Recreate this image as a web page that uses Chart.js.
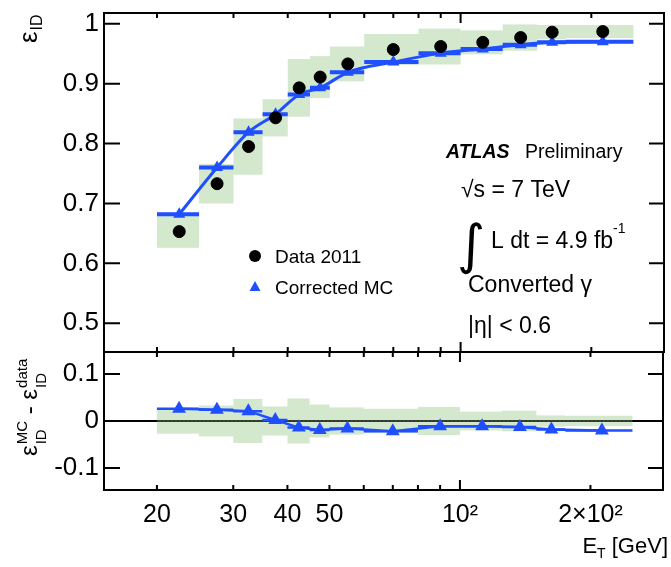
<!DOCTYPE html>
<html>
<head>
<meta charset="utf-8">
<script src="https://cdn.jsdelivr.net/npm/chart.js@4.4.1/dist/chart.umd.min.js"></script>
<style>
    html, body { margin: 0; padding: 0; background: #fff; }
    #wrap { position: relative; width: 671px; height: 567px; overflow: hidden; }
    canvas { position: absolute; left: 0; }
    #effChart { top: 0; }
    #diffChart { top: 340px; }
</style>
</head>
<body>
<div id="wrap">
    <canvas id="effChart" width="671" height="360"></canvas>
    <canvas id="diffChart" width="671" height="227"></canvas>
</div>
<script>
/* ---------------------------------------------------
    Data
---------------------------------------------------*/
const binEdges   = [20, 25, 30, 35, 40, 45, 50, 60, 80, 100, 125, 150, 175, 250];
const binCenters = [22.5, 27.5, 32.5, 37.5, 42.5, 47.5, 55, 70, 90, 112.5, 137.5, 162.5, 212.5];

const dataEff  = [0.653, 0.733, 0.795, 0.843, 0.893, 0.911, 0.933, 0.957, 0.962, 0.969, 0.977, 0.986, 0.987];
const dataSyst = [0.027, 0.033, 0.047, 0.031, 0.048, 0.035, 0.029, 0.026, 0.030, 0.020, 0.022, 0.012, 0.011];
const mcEff    = [0.682, 0.760, 0.819, 0.849, 0.882, 0.893, 0.919, 0.936, 0.951, 0.958, 0.965, 0.969, 0.970];
const mcMinusData = [0.026, 0.024, 0.021, 0.002, -0.014, -0.019, -0.016, -0.022, -0.011, -0.011, -0.013, -0.018, -0.020];

const xTickValues = [20, 30, 40, 50, 60, 70, 80, 90, 100, 200];
const xTickLabels = ["20", "30", "40", "50", "", "", "", "", "10²", "2×10²"];
const effTicks  = [0.5, 0.6, 0.7, 0.8, 0.9, 1];
const diffTicks = [-0.1, 0, 0.1];

const BLUE = "#1f4fff";
const BAND = "rgba(140, 195, 120, 0.38)";
const FONT = "'Liberation Sans', Arial, Helvetica, sans-serif";

Chart.defaults.font.family = FONT;
Chart.defaults.color = "#000";

/* ---------------------------------------------------
    Helpers
---------------------------------------------------*/
function drawBands(chart, centers) {
    const { ctx, scales } = chart;
    ctx.save();
    ctx.fillStyle = BAND;
    for (let i = 0; i < dataSyst.length; i++) {
        const c = centers ? centers[i] : 0;
        const x0 = scales.x.getPixelForValue(binEdges[i]);
        const x1 = scales.x.getPixelForValue(binEdges[i + 1]);
        const y0 = scales.y.getPixelForValue(c + dataSyst[i]);
        const y1 = scales.y.getPixelForValue(c - dataSyst[i]);
        ctx.fillRect(x0, y0, x1 - x0, y1 - y0);
    }
    ctx.restore();
}

function drawXBars(chart, values, width) {
    const { ctx, scales } = chart;
    ctx.save();
    ctx.strokeStyle = BLUE;
    ctx.lineWidth = width;
    ctx.beginPath();
    for (let i = 0; i < values.length; i++) {
        const y = scales.y.getPixelForValue(values[i]);
        ctx.moveTo(scales.x.getPixelForValue(binEdges[i]), y);
        ctx.lineTo(scales.x.getPixelForValue(binEdges[i + 1]), y);
    }
    ctx.stroke();
    ctx.restore();
}

// ROOT style frame with ticks pointing inwards
function drawFrame(chart, yTicks) {
    const { ctx, chartArea: a, scales } = chart;
    ctx.save();
    ctx.strokeStyle = "#000";
    ctx.lineWidth = 2;
    ctx.strokeRect(a.left, a.top, a.right - a.left, a.bottom - a.top);
    ctx.beginPath();
    xTickValues.forEach(v => {
        const px = scales.x.getPixelForValue(v);
        const len = v === 100 ? 10 : 5;
        ctx.moveTo(px, a.top); ctx.lineTo(px, a.top + len);
        ctx.moveTo(px, a.bottom); ctx.lineTo(px, a.bottom - len);
    });
    yTicks.forEach(v => {
        const py = scales.y.getPixelForValue(v);
        ctx.moveTo(a.left, py); ctx.lineTo(a.left + 16, py);
        ctx.moveTo(a.right, py); ctx.lineTo(a.right - 15, py);
    });
    ctx.stroke();
    ctx.restore();
}

function fixedYAxis(ticks) {
    return {
        afterBuildTicks: s => { s.ticks = ticks.map(v => ({ value: v })); },
        afterFit: s => { s.width = 104; s.paddingTop = 0; s.paddingBottom = 0; },
        ticks: { font: { size: 26 }, padding: 5, color: "#000", callback: v => String(v) },
        grid: { display: false, drawTicks: false },
        border: { display: false }
    };
}

/* ---------------------------------------------------
    1. Efficiency panel
---------------------------------------------------*/
const effPlugin = {
    id: "effDecor",
    beforeDatasetsDraw(chart) {
        drawBands(chart, dataEff);
        drawXBars(chart, mcEff, 4);
    },
    afterDraw(chart) {
        drawFrame(chart, effTicks);
        const ctx = chart.ctx;
        ctx.save();
        ctx.fillStyle = "#000";
        ctx.textBaseline = "alphabetic";

        // y title: epsilon_ID
        ctx.save();
        ctx.translate(37, 43);
        ctx.rotate(-Math.PI / 2);
        ctx.font = `26px ${FONT}`;
        ctx.fillText("ε", 0, 0);
        const ew = ctx.measureText("ε").width;
        ctx.font = `16px ${FONT}`;
        ctx.fillText("ID", ew + 1, 5);
        ctx.restore();

        // legend
        ctx.beginPath();
        ctx.arc(255, 256, 6, 0, Math.PI * 2);
        ctx.fill();
        ctx.fillStyle = BLUE;
        ctx.beginPath();
        ctx.moveTo(255, 281); ctx.lineTo(260.5, 291); ctx.lineTo(249.5, 291);
        ctx.closePath();
        ctx.fill();
        ctx.fillStyle = "#000";
        ctx.font = `19px ${FONT}`;
        ctx.fillText("Data 2011", 275, 263);
        ctx.fillText("Corrected MC", 275, 294);

        // ATLAS labels
        ctx.font = `italic bold 19.5px ${FONT}`;
        ctx.fillText("ATLAS", 446, 158);
        ctx.font = `19.5px ${FONT}`;
        ctx.fillText("Preliminary", 525, 158);
        ctx.font = `23px ${FONT}`;
        ctx.fillText("√s = 7 TeV", 461, 197);
        ctx.font = `54px 'DejaVu Sans', ${FONT}`;
        ctx.fillText("∫", 457, 263);
        ctx.font = `23px ${FONT}`;
        ctx.fillText("L dt = 4.9 fb", 491, 248);
        const lw = ctx.measureText("L dt = 4.9 fb").width;
        ctx.font = `14px ${FONT}`;
        ctx.fillText("-1", 491 + lw, 233);
        ctx.font = `23px ${FONT}`;
        ctx.fillText("Converted γ", 468, 292);
        ctx.fillText("|η| < 0.6", 468, 333);
        ctx.restore();
    }
};

new Chart(document.getElementById("effChart"), {
    type: "scatter",
    data: {
        datasets: [
            {
                label: "Data 2011",
                data: binCenters.map((x, i) => ({ x: x, y: dataEff[i] })),
                backgroundColor: "#000",
                borderColor: "#000",
                pointStyle: "circle",
                pointRadius: 6,
                showLine: false
            },
            {
                label: "Corrected MC",
                data: binCenters.map((x, i) => ({ x: x, y: mcEff[i] })),
                type: "line",
                borderColor: BLUE,
                backgroundColor: BLUE,
                borderWidth: 3,
                cubicInterpolationMode: "monotone",
                pointStyle: "triangle",
                pointRadius: 4,
                showLine: true
            }
        ]
    },
    options: {
        responsive: false,
        animation: false,
        devicePixelRatio: 1,
        layout: { padding: { left: 0, right: 5, top: 13, bottom: 8 } },
        plugins: { legend: { display: false }, tooltip: { enabled: false } },
        scales: {
            x: { type: "logarithmic", min: 15.1, max: 294, display: false },
            y: Object.assign({ min: 0.452, max: 1.018 }, fixedYAxis(effTicks))
        }
    },
    plugins: [effPlugin]
});

/* ---------------------------------------------------
    2. Difference panel (MC - data)
---------------------------------------------------*/
const diffPlugin = {
    id: "diffDecor",
    beforeDatasetsDraw(chart) {
        const { ctx, chartArea: a, scales } = chart;
        const y0 = scales.y.getPixelForValue(0);
        ctx.save();
        ctx.strokeStyle = "#000";
        ctx.lineWidth = 2;
        ctx.beginPath();
        ctx.moveTo(a.left, y0); ctx.lineTo(a.right, y0);
        ctx.stroke();
        ctx.restore();
        drawBands(chart, null);
        ctx.save();
        ctx.strokeStyle = "#333";
        ctx.lineWidth = 2;
        ctx.setLineDash([2, 2]);
        ctx.beginPath();
        ctx.moveTo(scales.x.getPixelForValue(binEdges[0]), y0);
        ctx.lineTo(scales.x.getPixelForValue(binEdges[binEdges.length - 1]), y0);
        ctx.stroke();
        ctx.restore();
        drawXBars(chart, mcMinusData, 2.5);
    },
    afterDraw(chart) {
        drawFrame(chart, diffTicks);
        const ctx = chart.ctx;
        ctx.save();
        ctx.fillStyle = "#000";

        // y title: eps_ID^MC - eps_ID^data
        ctx.save();
        ctx.translate(37, 116);
        ctx.rotate(-Math.PI / 2);
        let x = 0;
        const part = (sup) => {
            ctx.font = `24px ${FONT}`;
            ctx.fillText("ε", x, 0);
            x += ctx.measureText("ε").width + 1;
            ctx.font = `15px ${FONT}`;
            ctx.fillText("ID", x, 9);
            ctx.fillText(sup, x, -10);
            x += Math.max(ctx.measureText("ID").width, ctx.measureText(sup).width);
        };
        part("MC");
        ctx.font = `24px ${FONT}`;
        ctx.fillText(" - ", x, 0);
        x += ctx.measureText(" - ").width;
        part("data");
        ctx.restore();

        // x title: E_T [GeV]
        ctx.font = `22px ${FONT}`;
        const wE = ctx.measureText("E").width;
        const wG = ctx.measureText(" [GeV]").width;
        ctx.font = `14px ${FONT}`;
        const wT = ctx.measureText("T").width;
        let xs = 668 - wE - wT - wG;
        ctx.font = `22px ${FONT}`;
        ctx.fillText("E", xs, 213);
        ctx.font = `14px ${FONT}`;
        ctx.fillText("T", xs + wE, 218);
        ctx.font = `22px ${FONT}`;
        ctx.fillText(" [GeV]", xs + wE + wT, 213);
        ctx.restore();
    }
};

new Chart(document.getElementById("diffChart"), {
    type: "line",
    data: {
        datasets: [
            {
                label: "MC - data",
                data: binCenters.map((x, i) => ({ x: x, y: mcMinusData[i] })),
                borderColor: BLUE,
                backgroundColor: BLUE,
                borderWidth: 2.5,
                pointStyle: "triangle",
                pointRadius: 5.5,
                tension: 0
            }
        ]
    },
    options: {
        responsive: false,
        animation: false,
        devicePixelRatio: 1,
        layout: { padding: { left: 0, right: 5, top: 12, bottom: 0 } },
        plugins: { legend: { display: false }, tooltip: { enabled: false } },
        scales: {
            x: {
                type: "logarithmic",
                min: 15.1,
                max: 294,
                afterBuildTicks: s => { s.ticks = xTickValues.map(v => ({ value: v })); },
                afterFit: s => { s.height = 77; s.paddingLeft = 0; s.paddingRight = 0; },
                ticks: {
                    font: { size: 25 },
                    padding: 10,
                    color: "#000",
                    autoSkip: false,
                    maxRotation: 0,
                    callback: v => xTickLabels[xTickValues.indexOf(v)]
                },
                grid: { display: false, drawTicks: false },
                border: { display: false }
            },
            y: Object.assign({ min: -0.147, max: 0.147 }, fixedYAxis(diffTicks))
        }
    },
    plugins: [diffPlugin]
});
</script>
</body>
</html>
